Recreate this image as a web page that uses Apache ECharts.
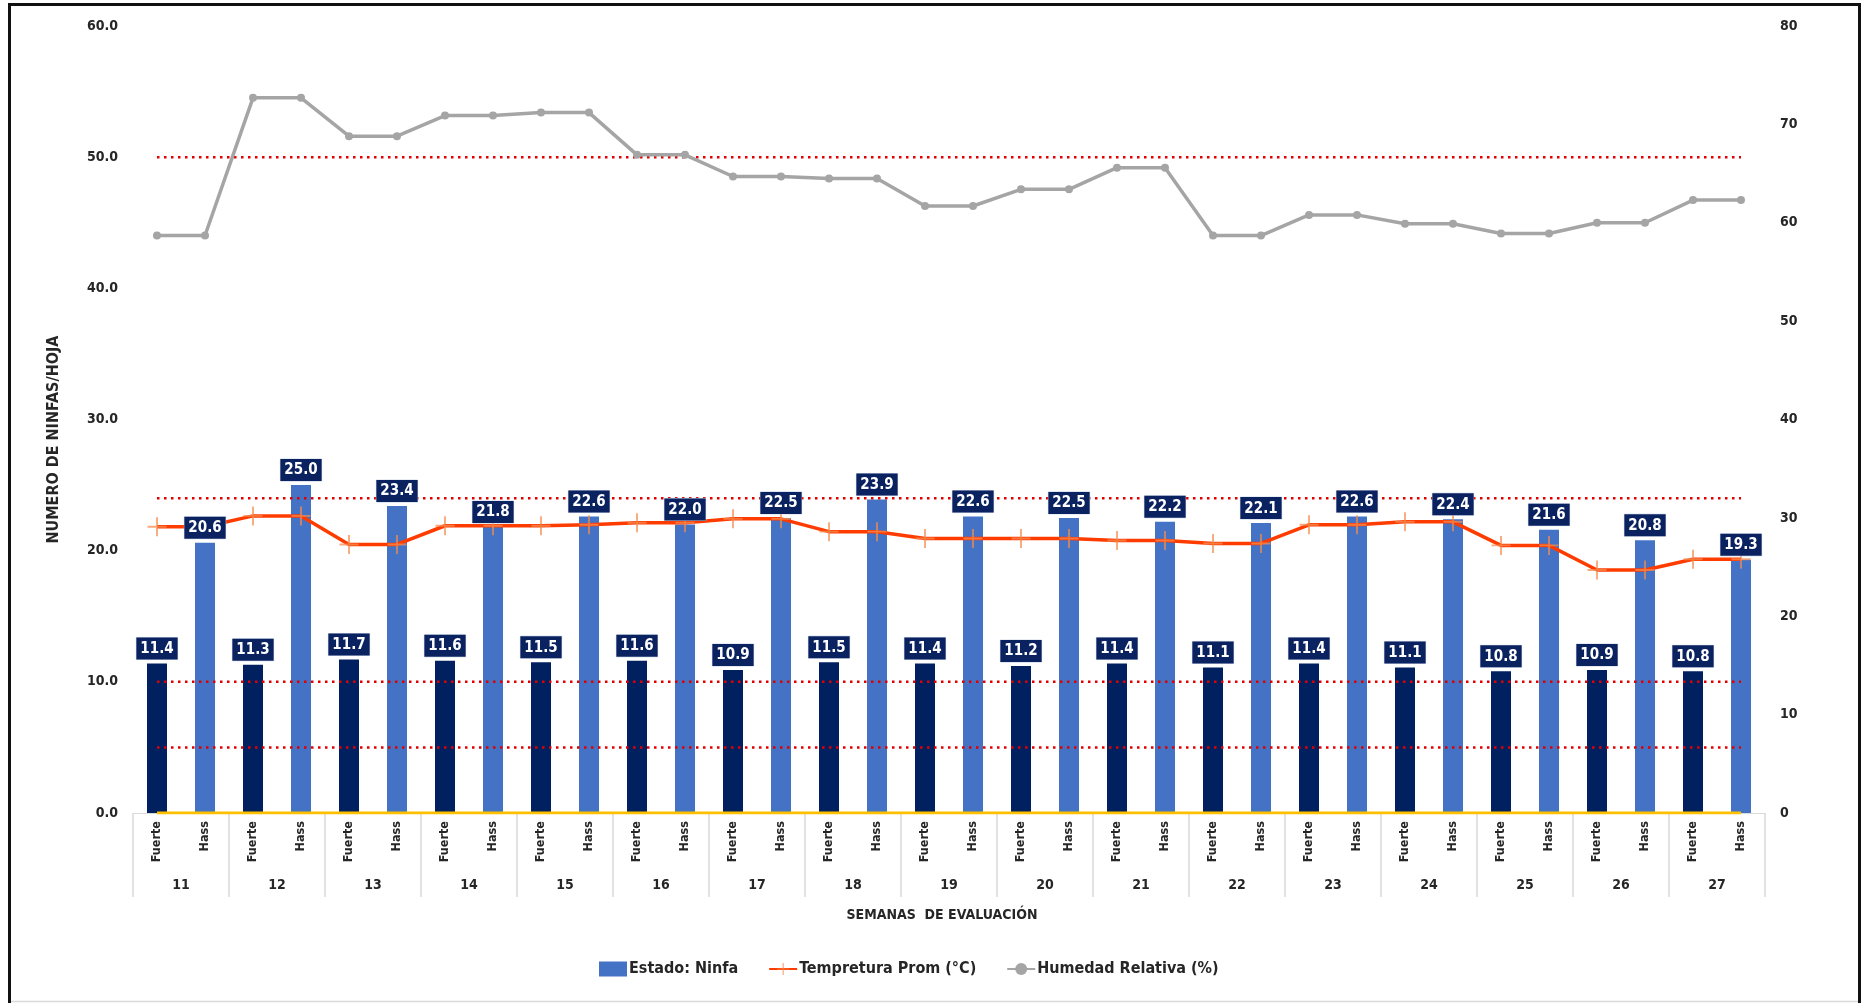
<!DOCTYPE html>
<html>
<head>
<meta charset="utf-8">
<script src="https://cdn.jsdelivr.net/npm/echarts@6/dist/echarts.min.js"></script>
<style>
  html, body { margin: 0; padding: 0; background: #ffffff; }
  #chart { width: 1863px; height: 1003px; }
</style>
</head>
<body>
<div id="chart"></div>
<script>
// Evaluation weeks and the two avocado varieties sampled each week
const weeks = ['11','12','13','14','15','16','17','18','19','20','21','22','23','24','25','26','27'];
const varieties = ['Fuerte', 'Hass'];

// Nymphs per leaf (Estado: Ninfa)
const ninfaFuerte = [11.4, 11.3, 11.7, 11.6, 11.5, 11.6, 10.9, 11.5, 11.4, 11.2, 11.4, 11.1, 11.4, 11.1, 10.8, 10.9, 10.8];
const ninfaHass   = [20.6, 25.0, 23.4, 21.8, 22.6, 22.0, 22.5, 23.9, 22.6, 22.5, 22.2, 22.1, 22.6, 22.4, 21.6, 20.8, 19.3];

// Mean temperature (°C), one value per Fuerte/Hass column
const tempProm = [29.1, 29.1, 30.2, 30.2, 27.3, 27.3, 29.2, 29.2, 29.2, 29.3,
                  29.5, 29.5, 29.9, 29.9, 28.6, 28.6, 27.9, 27.9, 27.9, 27.9,
                  27.7, 27.7, 27.4, 27.4, 29.3, 29.3, 29.6, 29.6, 27.2, 27.2,
                  24.7, 24.7, 25.8, 25.8];

// Relative humidity (%), one value per Fuerte/Hass column
const humedadRel = [58.7, 58.7, 72.7, 72.7, 68.8, 68.8, 70.9, 70.9, 71.2, 71.2,
                    66.9, 66.9, 64.7, 64.7, 64.5, 64.5, 61.7, 61.7, 63.4, 63.4,
                    65.6, 65.6, 58.7, 58.7, 60.8, 60.8, 59.9, 59.9, 58.9, 58.9,
                    60.0, 60.0, 62.3, 62.3];

// Reference levels (nymphs per leaf) drawn as dotted red lines
const refLevels = [50, 24, 10, 5];

// Axis ranges and tick steps: [min, max, interval]
const leftAxisRange = [0, 60, 10];
const rightAxisRange = [0, 80, 10];

const FONT = "'Liberation Sans Narrow', 'DejaVu Sans Condensed', 'Roboto Condensed', 'Noto Sans', sans-serif";
const TXT = '#262626';
const FUERTE_COLOR = '#002060';
const HASS_COLOR = '#4472C4';

const categories = weeks.flatMap(() => varieties);
const ninfaValues = [];
const barData = [];
weeks.forEach((w, i) => {
  ninfaValues.push(ninfaFuerte[i], ninfaHass[i]);
  barData.push({ value: ninfaFuerte[i], itemStyle: { color: FUERTE_COLOR } });
  barData.push({ value: ninfaHass[i], itemStyle: { color: HASS_COLOR } });
});

const refSeries = refLevels.map(level => ({
  type: 'line',
  name: 'ref' + level,
  xAxisIndex: 0,
  yAxisIndex: 0,
  data: categories.map(() => level),
  symbol: 'none',
  silent: true,
  lineStyle: { color: '#E00000', width: 2.5, type: [2.5, 4.5] },
  z: 3
}));

// thin "+" marker for the temperature line
const plusSymbol = 'path://M9,0 H11 V9 H20 V11 H11 V20 H9 V11 H0 V9 H9 Z';

const chart = echarts.init(document.getElementById('chart'), null, { renderer: 'canvas' });

chart.setOption({
  backgroundColor: '#ffffff',
  animation: false,
  textStyle: { fontFamily: FONT },
  grid: { left: 133, right: 98, top: 26, bottom: 190, containLabel: false },
  graphic: [
    {
      type: 'rect',
      shape: { x: 9.5, y: 4.5, width: 1850, height: 1010 },
      style: { fill: 'none', stroke: '#111111', lineWidth: 3 },
      silent: true,
      z: 100
    },
    {
      type: 'line',
      shape: { x1: 11, y1: 1001.5, x2: 1858, y2: 1001.5 },
      style: { stroke: '#d9d9d9', lineWidth: 1.5 },
      silent: true
    }
  ],
  legend: {
    data: [
      { name: 'Estado: Ninfa', icon: 'rect', itemStyle: { color: HASS_COLOR } },
      { name: 'Tempretura Prom (°C)' },
      { name: 'Humedad Relativa (%)' }
    ],
    left: 594,
    top: 956,
    itemWidth: 28,
    itemHeight: 15,
    itemGap: 30,
    textStyle: { fontFamily: FONT, fontSize: 16, fontWeight: 'bold', color: TXT, padding: [0, 0, 0, -3] }
  },
  xAxis: [
    {
      type: 'category',
      data: categories,
      position: 'bottom',
      axisLine: { show: true, lineStyle: { color: '#d9d9d9', width: 1 } },
      axisTick: { show: false },
      axisLabel: {
        interval: 0,
        rotate: 90,
        margin: 8,
        fontFamily: FONT,
        fontSize: 12.5,
        fontWeight: 'bold',
        color: TXT
      },
      splitLine: { show: false }
    },
    {
      type: 'category',
      data: weeks,
      position: 'bottom',
      axisLine: { show: false },
      axisTick: { show: true, length: 84, lineStyle: { color: '#d9d9d9', width: 1.5 } },
      axisLabel: {
        interval: 0,
        margin: 65,
        fontFamily: FONT,
        fontSize: 14,
        fontWeight: 'bold',
        color: TXT
      },
      name: 'SEMANAS  DE EVALUACIÓN',
      nameLocation: 'middle',
      nameGap: 95,
      nameTextStyle: { fontFamily: FONT, fontSize: 14, fontWeight: 'bold', color: TXT, padding: [0, 14, 0, 0] },
      splitLine: { show: false }
    }
  ],
  yAxis: [
    {
      type: 'value',
      min: leftAxisRange[0],
      max: leftAxisRange[1],
      interval: leftAxisRange[2],
      position: 'left',
      axisLine: { show: false },
      axisTick: { show: false },
      splitLine: { show: false },
      axisLabel: {
        margin: 15,
        fontFamily: FONT,
        fontSize: 14,
        fontWeight: 'bold',
        color: TXT,
        formatter: v => v.toFixed(1)
      },
      name: 'NUMERO DE NINFAS/HOJA',
      nameLocation: 'middle',
      nameGap: 71,
      nameTextStyle: { fontFamily: FONT, fontSize: 16, fontWeight: 'bold', color: TXT, padding: [0, 40, 0, 0] }
    },
    {
      type: 'value',
      min: rightAxisRange[0],
      max: rightAxisRange[1],
      interval: rightAxisRange[2],
      position: 'right',
      axisLine: { show: false },
      axisTick: { show: false },
      splitLine: { show: false },
      axisLabel: {
        margin: 15,
        fontFamily: FONT,
        fontSize: 14,
        fontWeight: 'bold',
        color: TXT
      }
    }
  ],
  series: [
    {
      type: 'bar',
      name: 'Estado: Ninfa',
      xAxisIndex: 0,
      yAxisIndex: 0,
      data: barData,
      barWidth: 20,
      barGap: '-100%',
      itemStyle: { color: HASS_COLOR },
      z: 2
    },
    ...refSeries,
    {
      type: 'line',
      name: 'cero',
      xAxisIndex: 0,
      yAxisIndex: 0,
      data: categories.map(() => 0),
      symbol: 'none',
      silent: true,
      lineStyle: { color: '#FFC000', width: 3 },
      z: 4
    },
    {
      type: 'line',
      name: 'Tempretura Prom (°C)',
      xAxisIndex: 0,
      yAxisIndex: 1,
      data: tempProm,
      symbol: plusSymbol,
      symbolSize: 19,
      showAllSymbol: true,
      lineStyle: { color: '#FF3C00', width: 3.5 },
      itemStyle: { color: 'rgba(244,140,80,0.75)' },
      z: 5
    },
    {
      type: 'line',
      name: 'Humedad Relativa (%)',
      xAxisIndex: 0,
      yAxisIndex: 1,
      data: humedadRel,
      symbol: 'circle',
      symbolSize: 8,
      showAllSymbol: true,
      lineStyle: { color: '#A5A5A5', width: 3.5 },
      itemStyle: { color: '#A5A5A5' },
      z: 5
    },
    {
      // value boxes above the bars, kept on top of the lines
      type: 'bar',
      name: 'Ninfa valores',
      xAxisIndex: 0,
      yAxisIndex: 0,
      data: ninfaValues,
      barWidth: 20,
      barGap: '-100%',
      silent: true,
      itemStyle: { color: 'rgba(0,0,0,0)' },
      label: {
        show: true,
        position: 'top',
        distance: 4,
        formatter: p => p.value.toFixed(1),
        fontFamily: FONT,
        fontSize: 15,
        fontWeight: 'bold',
        color: '#ffffff',
        backgroundColor: '#0B2260',
        borderColor: '#c9d3e8',
        borderWidth: 0.5,
        padding: [4, 4, 3, 4]
      },
      z: 10
    }
  ]
});
</script>
</body>
</html>
